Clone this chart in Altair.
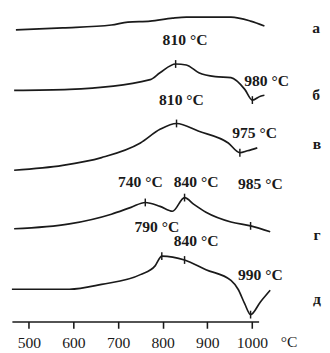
import altair as alt
import pandas as pd

FONT = "Liberation Serif"
INK = "#1a1a1a"

# curve names (Cyrillic letters as in the original)
curve_names = ["а", "б", "в", "г", "д"]

# temperature (°C) and signal (arbitrary units, offset per curve)
a_t = [471, 576, 685, 722, 772, 822, 853, 953, 997, 1028]
a_s = [299, 301, 304, 307, 308, 311, 312, 312, 308, 303]

b_t = [467, 591, 772, 794, 829, 853, 881, 918, 953, 984, 1001, 1019, 1028]
b_s = [237, 238, 248, 255, 264, 263, 255, 251, 250, 238, 227, 231, 232]

v_t = [467, 576, 663, 750, 794, 831, 881, 947, 973, 990, 1012]
v_s = [155, 160, 168, 183, 197, 203, 195, 183, 173, 175, 178]

g_t = [467, 591, 685, 729, 761, 794, 822, 849, 870, 897, 953, 997, 1041]
g_s = [95, 100, 110, 117, 122, 118, 113, 127, 120, 112, 102, 98, 92]

d_t = [462, 591, 663, 750, 783, 798, 849, 897, 953, 969, 984, 997, 1019, 1041]
d_s = [33, 33, 38, 48, 57, 67, 63, 53, 42, 33, 18, 7, 20, 32]

# marked points (short vertical ticks on curves)
mark_t = [829, 1001, 831, 973, 761, 849, 997, 798, 849, 997]
mark_s = [264, 227, 203, 173, 122, 127, 98, 67, 63, 7]

# annotation labels
ann_text = ["810 °C", "980 °C", "810 °C", "975 °C", "740 °C", "840 °C",
            "985 °C", "790 °C", "840 °C", "990 °C"]
ann_t = [850, 1033, 842, 1006, 750, 875, 1019, 787, 875, 1019]
ann_s = [288, 246, 227, 193, 143, 143, 141, 97, 82, 48]

# curve letter labels
letter_t = [1144, 1144, 1146, 1146, 1146]
letter_s = [301, 232, 182, 88, 23]

tick_values = [500, 600, 700, 800, 900, 1000]
unit_label = "°C"

rows = []
for name, ts, ss in zip(curve_names, [a_t, b_t, v_t, g_t, d_t], [a_s, b_s, v_s, g_s, d_s]):
    for i, (t, s) in enumerate(zip(ts, ss)):
        rows.append({"curve": name, "T": t, "S": s, "o": i})
curves = pd.DataFrame(rows)

marks = pd.DataFrame({"T": mark_t, "S": [s - 4 for s in mark_s], "S2": [s + 4 for s in mark_s]})
ann = pd.DataFrame({"T": ann_t, "S": ann_s, "label": ann_text})
letters = pd.DataFrame({"T": letter_t, "S": letter_s, "label": curve_names})
unit = pd.DataFrame({"T": [1083], "S": [-21], "label": [unit_label]})

xs = alt.Scale(domain=[462, 1015], nice=False, zero=False)
ys = alt.Scale(domain=[0, 317], nice=False, zero=False)

x_axis = alt.Axis(values=tick_values, title=None, grid=False, labelFont=FONT,
                  labelFontSize=16, labelColor=INK, tickSize=7, labelPadding=7,
                  domainColor=INK, tickColor=INK, domainWidth=1.6, tickWidth=1.6,
                  labelFlush=False, format="d")

lines = alt.Chart(curves).mark_line(color=INK, strokeWidth=1.7, interpolate="monotone").encode(
    x=alt.X("T:Q", scale=xs, axis=x_axis),
    y=alt.Y("S:Q", scale=ys, axis=None),
    detail="curve:N",
    order="o:Q",
)

ticks = alt.Chart(marks).mark_rule(color=INK, strokeWidth=1.5).encode(
    x=alt.X("T:Q", scale=xs),
    y=alt.Y("S:Q", scale=ys),
    y2="S2:Q",
)

ann_layer = alt.Chart(ann).mark_text(font=FONT, fontSize=16, fontWeight="bold", color=INK).encode(
    x=alt.X("T:Q", scale=xs), y=alt.Y("S:Q", scale=ys), text="label:N")

letter_layer = alt.Chart(letters).mark_text(font=FONT, fontSize=16, fontWeight="bold", color=INK).encode(
    x=alt.X("T:Q", scale=xs), y=alt.Y("S:Q", scale=ys), text="label:N")

unit_layer = alt.Chart(unit).mark_text(font=FONT, fontSize=16, color=INK).encode(
    x=alt.X("T:Q", scale=xs), y=alt.Y("S:Q", scale=ys), text="label:N")

chart = alt.layer(lines, ticks, ann_layer, letter_layer, unit_layer).properties(
    width=253, height=317, padding=0, background="white"
).configure_view(stroke=None)

chart.save("out.html", embed_options={"renderer": "svg", "actions": False})
